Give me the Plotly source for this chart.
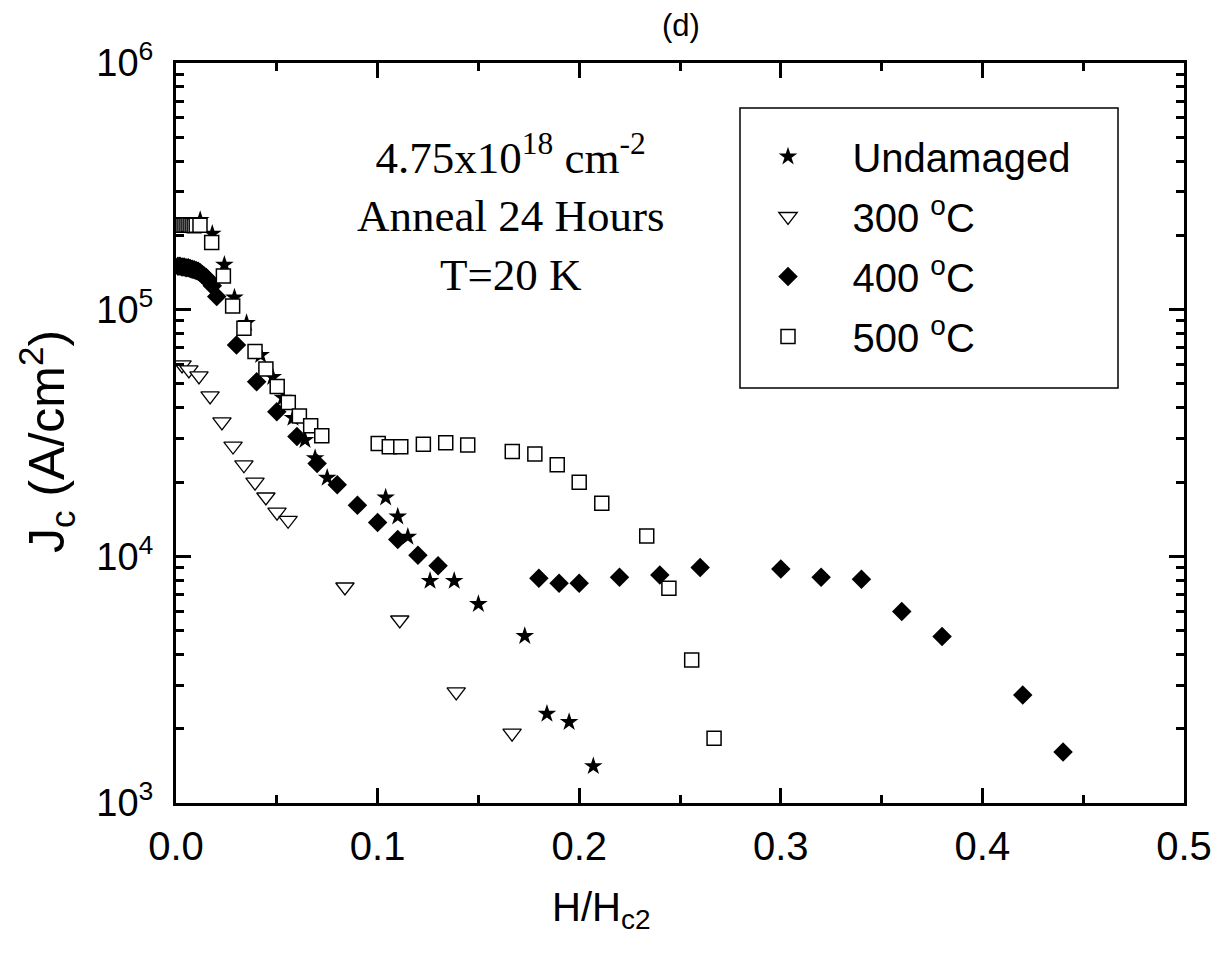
import plotly.graph_objects as go

# ---------------- data ----------------
und_x = [0.012, 0.018, 0.024, 0.029, 0.035, 0.042, 0.048, 0.053, 0.058, 0.064, 0.069, 0.075,
         0.104, 0.110, 0.115, 0.126, 0.138, 0.150, 0.173, 0.184, 0.195, 0.207]
und_y = [231000, 203000, 152000, 112000, 88300, 65500, 53300, 43900, 36400, 29600, 25000, 20800,
         17300, 14500, 12000, 7950, 7950, 6410, 4750, 2300, 2130, 1410]

t300_x = [0.003, 0.0064, 0.0114, 0.0169, 0.0228, 0.0283, 0.0337, 0.0392, 0.0446, 0.0501, 0.0556,
          0.0838, 0.111, 0.139, 0.1667]
t300_y = [59700, 57000, 53900, 44700, 35100, 28000, 23500, 20000, 17400, 15100, 14000,
          7510, 5520, 2820, 1920]

t400_x = [0.001, 0.002, 0.003, 0.004, 0.005, 0.006, 0.007, 0.008, 0.009, 0.010, 0.011, 0.012,
          0.013, 0.014, 0.015, 0.016, 0.017, 0.018, 0.0202, 0.030, 0.040, 0.050, 0.060, 0.070,
          0.080, 0.090, 0.100, 0.110, 0.120, 0.130, 0.180, 0.190, 0.200, 0.220, 0.240, 0.260,
          0.300, 0.320, 0.340, 0.360, 0.380, 0.420, 0.440]
t400_y = [150000, 150000, 149000, 149000, 148000, 148000, 147000, 146000, 145000, 144000, 143000, 141000,
          139000, 137000, 135000, 132000, 129000, 125000, 113000, 71900, 51000, 38600, 30600, 23800,
          19500, 16100, 13700, 11700, 10100, 9150, 8150, 7780, 7780, 8230, 8410, 9000,
          8890, 8230, 8070, 5970, 4730, 2740, 1610]

t500_x = [0.001, 0.002, 0.003, 0.004, 0.005, 0.006, 0.007, 0.008, 0.009, 0.010, 0.0119, 0.0177,
          0.0235, 0.0281, 0.0337, 0.0392, 0.0446, 0.0502, 0.0557, 0.0612, 0.0668, 0.0723, 0.1003,
          0.1058, 0.1115, 0.1227, 0.1338, 0.1447, 0.1668, 0.178, 0.1891, 0.200, 0.2112, 0.2335,
          0.2445, 0.2558, 0.2669]
t500_y = [221000, 221000, 220000, 220000, 220000, 221000, 220000, 220000, 219000, 220000, 220000, 187000,
          137000, 103500, 84100, 67600, 57500, 48800, 42000, 37100, 33800, 30800, 28700,
          27800, 27800, 28500, 28900, 28300, 26600, 26000, 23500, 19950, 16400, 12100,
          7430, 3800, 1830]

series_names = ["Undamaged", "300 <sup>o</sup>C", "400 <sup>o</sup>C", "500 <sup>o</sup>C"]
y_tick_vals = [1e3, 1e4, 1e5, 1e6]
y_tick_text = ["10<sup>3</sup>", "10<sup>4</sup>", "10<sup>5</sup>", "10<sup>6</sup>"]

SANS = "Liberation Sans Narrow, Arial Narrow, Liberation Sans, Arial, sans-serif"
SERIF = "Liberation Serif, Times New Roman, serif"
PAD = "\u00a0" * 4

# page body has an 8px margin: reference pixel p -> figure pixel p - 8
OFF = 8
PL, PR, PT, PB = 176, 1184, 63, 803   # plot frame in reference pixels
PW, PH = PR - PL, PB - PT


def px(xr):
    return (xr - PL) / PW


def py(yr):
    return (PB - yr) / PH


fig = go.Figure()
fig.add_trace(go.Scatter(x=und_x, y=und_y, mode="markers", name=PAD + series_names[0],
                         legendgroup="a",
                         marker=dict(symbol="star", size=14, color="black",
                                     line=dict(width=0))))
fig.add_trace(go.Scatter(x=t300_x, y=t300_y, mode="markers", name=PAD + series_names[1],
                         legendgroup="b",
                         marker=dict(symbol="triangle-down", size=16, color="white",
                                     line=dict(width=1.3, color="black"))))
fig.add_trace(go.Scatter(x=t400_x, y=t400_y, mode="markers", name=PAD + series_names[2],
                         legendgroup="c",
                         marker=dict(symbol="diamond", size=15, color="black",
                                     line=dict(width=0))))
fig.add_trace(go.Scatter(x=t500_x, y=t500_y, mode="markers", name=PAD + series_names[3],
                         legendgroup="d",
                         marker=dict(symbol="square", size=14, color="white",
                                     line=dict(width=1.5, color="black"))))

minor_vals = [m * 10 ** e for e in range(3, 6) for m in range(2, 10)]

fig.update_xaxes(range=[0, 0.5], dtick=0.1, tick0=0, tickformat=".1f",
                 ticks="inside", ticklen=15, tickwidth=2.5, tickcolor="black",
                 minor=dict(dtick=0.05, tick0=0, ticks="inside", ticklen=8, tickwidth=2.5,
                            tickcolor="black", showgrid=False),
                 showline=True, linewidth=3, linecolor="black", mirror="ticks",
                 showgrid=False, zeroline=False,
                 tickfont=dict(family=SANS, size=40, color="black"),
                 ticklabelstandoff=6)
fig.update_yaxes(type="log", range=[3, 6], tickmode="array", tickvals=y_tick_vals,
                 ticktext=y_tick_text,
                 ticks="inside", ticklen=15, tickwidth=2.5, tickcolor="black",
                 minor=dict(tickmode="array", tickvals=minor_vals, ticks="inside", ticklen=8,
                            tickwidth=2.5, tickcolor="black", showgrid=False),
                 showline=True, linewidth=3, linecolor="black", mirror="ticks",
                 showgrid=False, zeroline=False,
                 tickfont=dict(family=SANS, size=38, color="black"),
                 ticklabelstandoff=12)

W, H = 1226 - OFF, 957 - OFF
fig.update_layout(
    width=W, height=H,
    margin=dict(l=PL - OFF, r=W - (PL - OFF) - PW, t=PT - OFF, b=H - (PT - OFF) - PH,
                autoexpand=False),
    paper_bgcolor="white", plot_bgcolor="white",
    showlegend=True,
    legend=dict(x=px(768), y=py(124), xanchor="left", yanchor="top",
                bgcolor="rgba(0,0,0,0)", borderwidth=0,
                font=dict(family=SANS, size=40, color="black"),
                tracegroupgap=5, itemsizing="trace"),
    shapes=[dict(type="rect", xref="paper", yref="paper",
                 x0=px(740), x1=px(1118), y0=py(388), y1=py(108),
                 line=dict(color="black", width=1.5), fillcolor="rgba(0,0,0,0)")],
    annotations=[
        dict(text="(d)", xref="paper", yref="paper", x=px(681), y=py(26),
             showarrow=False, font=dict(family=SANS, size=31, color="black"),
             xanchor="center", yanchor="middle"),
        dict(text="4.75x10<sup>18</sup> cm<sup>-2</sup><br>Anneal 24 Hours<br>T=20 K",
             xref="paper", yref="paper", x=px(510), y=py(213),
             showarrow=False, align="center", xanchor="center", yanchor="middle",
             font=dict(family=SERIF, size=45, color="black")),
        dict(text="H/H<sub>c2</sub>", xref="paper", yref="paper",
             x=px(601), y=py(910), showarrow=False,
             xanchor="center", yanchor="middle",
             font=dict(family=SANS, size=40, color="black")),
        dict(text="J<sub>c</sub> (A/cm<sup>2</sup>)", xref="paper", yref="paper",
             x=px(46), y=py(442), showarrow=False, textangle=-90,
             xanchor="center", yanchor="middle",
             font=dict(family=SANS, size=50, color="black")),
    ],
)

fig.write_html("out.html")
